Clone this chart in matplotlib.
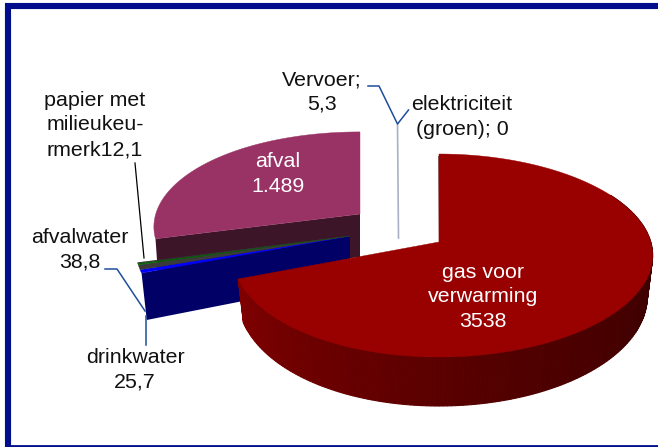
import numpy as np
import matplotlib
matplotlib.use("Agg")
import matplotlib.pyplot as plt
from matplotlib.colors import to_rgb

# values as printed on the chart, clockwise from the top
names = ["gas voor verwarming", "drinkwater", "afvalwater", "papier met milieukeurmerk",
         "Vervoer", "elektriciteit (groen)", "afval"]
values = [3538, 25.7, 38.8, 12.1, 5.3, 0, 1489]
top_colors = ["#990000", "#0000ff", "#3a3a3a", "#006600", "#333333", "#006600", "#993366"]

plt.rcParams["font.family"] = ["Liberation Sans", "DejaVu Sans"]

# wedge angles in degrees
ends = np.cumsum(values) / np.sum(values) * 360
starts = ends - np.array(values) / np.sum(values) * 360

# perspective of the tilted pie
K = 0.133


def project(tip, th, rx=208.0, ry=99.7, skew=0.018):
    t = np.radians(th)
    d = 1 + K * np.cos(t)
    s = np.sin(t)
    return tip[0] + rx * (1 + skew * s) * s / d, tip[1] - ry * np.cos(t) / d


def drop(x, y, tip, th, depth=40.0, grow=9.0):
    # the same point on the bottom of the slab
    t = np.radians(th)
    return tip[0] + (x - tip[0]) * 0.975, y + depth - grow * np.cos(t)


def wedge_top(ax, tip, a, b, color, z=3, **kw):
    th = np.linspace(a, b, max(int((b - a) * 2), 2))
    x, y = project(tip, th, **kw)
    ax.fill(np.r_[tip[0], x], np.r_[tip[1], y], color=color, lw=0.3, zorder=z)


fig = plt.figure(figsize=(6.58, 4.47), dpi=100)
ax = fig.add_axes([0, 0, 1, 1])
ax.set_xlim(0, 658)
ax.set_ylim(447, 0)
ax.axis("off")

# frame (no line on the right)
frame = "#000e8c"
ax.plot([8, 8], [3, 447], color=frame, lw=4.4, solid_capstyle="butt")
ax.plot([5, 658], [6, 6], color=frame, lw=4.4, solid_capstyle="butt")
ax.plot([8, 658], [445.8, 445.8], color=frame, lw=2, solid_capstyle="butt")

# afval, pulled away to the back left
afval_tip = (360, 214)
a0, a1 = starts[6], ends[6]
lx, ly = project(afval_tip, a0, ry=93)
ax.fill([lx, afval_tip[0], afval_tip[0], lx + 3],
        [ly, afval_tip[1], afval_tip[1] + 43, ly + 43], color="#3d1528", lw=0, zorder=1)
wedge_top(ax, afval_tip, a0, a1, top_colors[6], z=2, ry=93)

# the thin slices in front of it
thin_tip = (350, 236)
bx, by = project(thin_tip, starts[1], rx=216)
bx2, by2 = drop(bx, by, thin_tip, starts[1], depth=47, grow=0)
ax.fill([bx, thin_tip[0], thin_tip[0], bx2],
        [by, thin_tip[1], thin_tip[1] + 44, by2], color="#000066", lw=0, zorder=3)
for i in [1, 2, 3, 4]:
    wedge_top(ax, thin_tip, starts[i], ends[i], top_colors[i], rx=216)

# gas: outer wall, shaded from left to right
gas_tip = (439, 242)
a0, a1 = starts[0], ends[0]
wall_left = np.array(to_rgb("#800000"))
wall_mid = np.array(to_rgb("#520000"))
wall_right = np.array(to_rgb("#2e0000"))
steps = np.arange(60, a1, 1.0)
for th in steps:
    th2 = min(th + 1.0, a1)
    x1, y1 = project(gas_tip, th)
    x2, y2 = project(gas_tip, th2)
    x3, y3 = drop(x2, y2, gas_tip, th2)
    x4, y4 = drop(x1, y1, gas_tip, th)
    f = (th - 60) / (a1 - 60)
    if f < 0.55:
        c = wall_right + (wall_mid - wall_right) * f / 0.55
    else:
        c = wall_mid + (wall_left - wall_mid) * (f - 0.55) / 0.45
    ax.fill([x1, x2, x3, x4], [y1, y2, y3, y4], facecolor=c, edgecolor=c, lw=0.8, zorder=4)

# sliver of the cut face at the top of the gas slice
fx, fy = project(gas_tip, a0)
ax.plot([fx + 0.5, gas_tip[0] + 1], [fy + 3, gas_tip[1]], color="#3a0000", lw=1.6, zorder=4.5)
wedge_top(ax, gas_tip, a0, a1, top_colors[0], z=5)

# leader lines
blue = "#1f4e9c"
ax.plot([368, 379, 397.5, 408.5], [86, 86, 124, 110], color=blue, lw=1.1, zorder=6)
ax.plot([397.5, 398.5], [124, 238], color="#a8b2c4", lw=1.2, zorder=2)
ax.plot([135, 144], [163, 258], color="black", lw=0.9, zorder=6)
ax.plot([105, 117, 145], [269, 269, 311], color=blue, lw=1.1, zorder=6)
ax.plot([146, 146], [316, 345], color=blue, lw=1.1, zorder=6)

# labels
fs = 15.4
ls = 1.38
ink = "#111111"
ax.text(322, 92, "Vervoer;\n5,3", ha="center", va="center", fontsize=fs, color=ink, linespacing=ls, zorder=7)
ax.text(462, 117, "elektriciteit\n(groen); 0", ha="center", va="center", fontsize=fs, color=ink, linespacing=ls, zorder=7)
ax.text(95, 125, "papier met\nmilieukeu-\nrmerk12,1", ha="center", va="center", fontsize=fs, color=ink, linespacing=ls, zorder=7)
ax.text(80, 250, "afvalwater\n38,8", ha="center", va="center", fontsize=fs, color=ink, linespacing=ls, zorder=7)
ax.text(135, 370, "drinkwater\n25,7", ha="center", va="center", fontsize=fs, color=ink, linespacing=ls, zorder=7)
ax.text(278, 174, "afval\n1.489", ha="center", va="center", fontsize=fs, color="white", linespacing=ls, zorder=7)
ax.text(483, 297, "gas voor\nverwarming\n3538", ha="center", va="center", fontsize=fs, color="white", linespacing=ls, zorder=7)

fig.savefig("out.png", dpi=100, facecolor="white")
